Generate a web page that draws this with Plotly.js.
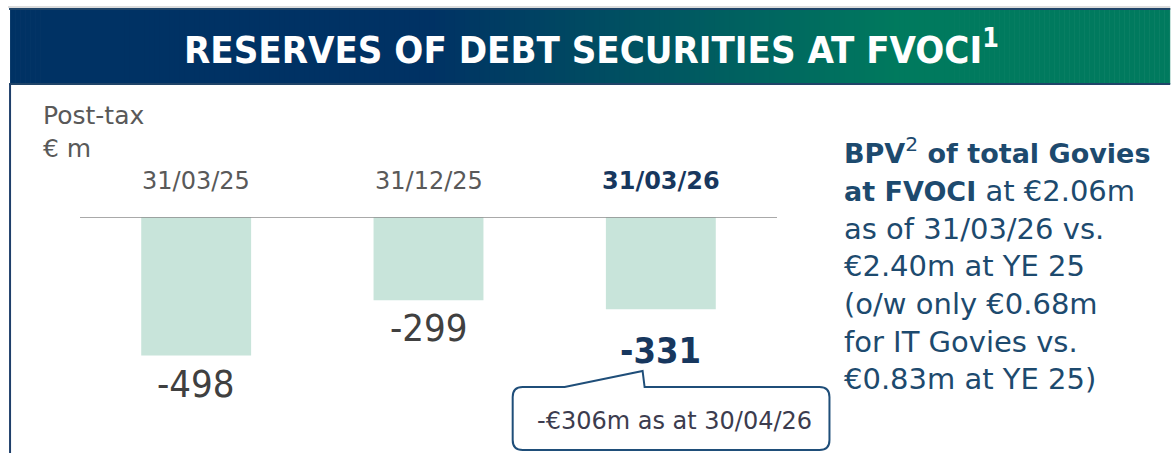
<!DOCTYPE html>
<html>
<head>
<meta charset="utf-8">
<script src="https://cdn.plot.ly/plotly-3.0.1.min.js"></script>
<style>html,body{margin:0;padding:0;background:#fff;}#chart{width:1171px;height:453px;}</style>
</head>
<body>
<div id="chart"></div>
<script>
// ---- data ----
const categories = ["31/03/25", "31/12/25", "31/03/26"];
const values = [-498, -299, -331];
const valueLabels = ["-498", "-299", "-331"];
const highlight = [false, false, true];
const chartTitle = "RESERVES OF DEBT SECURITIES AT FVOCI<sup>1</sup>";
const unitLabel = "Post-tax<br>€ m";
const calloutText = "-€306m as at 30/04/26";
const sideNoteLines = [
  "<b>BPV</b><sup>2</sup><b> of total Govies</b>",
  "<b>at FVOCI</b> at €2.06m",
  "as of 31/03/26 vs.",
  "€2.40m at YE 25",
  "(o/w only €0.68m",
  "for IT Govies vs.",
  "€0.83m at YE 25)"
];

// ---- layout geometry ----
const W = 1171, H = 453;
const ml = 80, mr = 393.5, mt = 217, mb = 69;
const plotW = W - ml - mr, plotH = H - mt - mb;
const px = x => (x - ml) / plotW;
const py = y => (H - mb - y) / plotH;

const NAVY = "#17375e";
const GRAY = "#595959";
const REG = "DejaVu Sans, Liberation Sans, sans-serif";
const NARROW = "Liberation Sans Narrow, DejaVu Sans Condensed, Roboto, sans-serif";

// header gradient stripes
const shapes = [];
const c0 = [0, 50, 100], c1 = [0, 122, 94];
const gx0 = 430, gx1 = 900;
for (let x = 10; x < W; x += 5) {
  const xm = x + 2.5;
  let t = Math.min(1, Math.max(0, (xm - gx0) / (gx1 - gx0)));
  const c = c0.map((v, i) => Math.round(v + (c1[i] - v) * t));
  shapes.push({type: "rect", xref: "paper", yref: "paper",
    x0: px(x), x1: px(Math.min(W, x + 5.6)), y0: py(84), y1: py(8),
    fillcolor: `rgb(${c[0]},${c[1]},${c[2]})`, line: {width: 0}, layer: "below"});
}
// header borders
shapes.push({type: "line", xref: "paper", yref: "paper", x0: px(8), x1: px(W), y0: py(7), y1: py(7), line: {color: "#b8b8b8", width: 1}});
shapes.push({type: "line", xref: "paper", yref: "paper", x0: px(9), x1: px(W), y0: py(9), y1: py(9), line: {color: "#1f4468", width: 2}});
shapes.push({type: "line", xref: "paper", yref: "paper", x0: px(9), x1: px(W), y0: py(84), y1: py(84), line: {color: "#1f4468", width: 2}});
// left vertical rule
shapes.push({type: "line", xref: "paper", yref: "paper", x0: px(10), x1: px(10), y0: py(84), y1: py(H), line: {color: "#1f3f6a", width: 2}});
// baseline
shapes.push({type: "line", xref: "paper", yref: "y", x0: 0, x1: 1, y0: 0, y1: 0, line: {color: "#8c8c8c", width: 1.5}});
// callout box
const bx0 = 513, bx1 = 830, by0 = 387, by1 = 450, r = 10;
const P = (x, y) => `${px(x)},${py(y)}`;
const path = `M ${P(bx0 + r, by0)} L ${P(565, by0)} L ${P(643, 371)} L ${P(645, by0)} L ${P(bx1 - r, by0)} Q ${P(bx1, by0)} ${P(bx1, by0 + r)} L ${P(bx1, by1 - r)} Q ${P(bx1, by1)} ${P(bx1 - r, by1)} L ${P(bx0 + r, by1)} Q ${P(bx0, by1)} ${P(bx0, by1 - r)} L ${P(bx0, by0 + r)} Q ${P(bx0, by0)} ${P(bx0 + r, by0)} Z`;
shapes.push({type: "path", xref: "paper", yref: "paper", path: path, fillcolor: "#ffffff", line: {color: "#1f4e79", width: 2}});

const annotations = [];
// title
annotations.push({xref: "paper", yref: "paper", x: px(592), y: py(47), xanchor: "center", yanchor: "middle",
  text: "<b>" + chartTitle + "</b>", showarrow: false, font: {family: NARROW, size: 38, color: "#ffffff"}});
// unit label
annotations.push({xref: "paper", yref: "paper", x: px(41), y: py(132), xanchor: "left", yanchor: "middle", align: "left",
  text: unitLabel, showarrow: false, font: {family: REG, size: 25, color: GRAY}});
// category labels
categories.forEach((c, i) => {
  annotations.push({xref: "x", yref: "y", x: c, y: 0, yanchor: "middle", xanchor: "center", yshift: 36,
    text: highlight[i] ? "<b>" + c + "</b>" : c, showarrow: false,
    font: {family: REG, size: 24, color: highlight[i] ? NAVY : GRAY}});
});
// value labels
categories.forEach((c, i) => {
  annotations.push({xref: "x", yref: "y", x: c, y: values[i], yanchor: "middle", xanchor: "center",
    yshift: highlight[i] ? -41 : -28,
    text: highlight[i] ? "<b>" + valueLabels[i] + "</b>" : valueLabels[i], showarrow: false,
    font: {family: NARROW, size: highlight[i] ? 36 : 38, color: highlight[i] ? NAVY : "#404040"}});
});
// callout text
annotations.push({xref: "paper", yref: "paper", x: px(675), y: py(421), xanchor: "center", yanchor: "middle",
  text: calloutText, showarrow: false, font: {family: REG, size: 24, color: "#3c3c4e"}});
// side note (bold parts slightly smaller so the first line fits)
const sideText = sideNoteLines
  .map(l => l.replace(/<b>/g, '<span style="font-size:27px"><b>').replace(/<\/b>/g, '</b></span>'))
  .join("<br>");
annotations.push({xref: "paper", yref: "paper", x: px(843), y: py(263.5), xanchor: "left", yanchor: "middle", align: "left",
  text: sideText, showarrow: false, font: {family: REG, size: 29, color: "#1d4a6e"}});

const trace = {
  type: "bar", x: categories, y: values, width: 0.473,
  marker: {color: "#c8e4da", line: {width: 0}},
  hoverinfo: "skip", showlegend: false
};

const layout = {
  width: W, height: H,
  margin: {l: ml, r: mr, t: mt, b: mb, pad: 0},
  paper_bgcolor: "#ffffff", plot_bgcolor: "#ffffff",
  xaxis: {type: "category", range: [-0.5, 2.5], showticklabels: false, showgrid: false, zeroline: false, showline: false, ticks: "", fixedrange: true},
  yaxis: {range: [-600, 0], showticklabels: false, showgrid: false, zeroline: false, showline: false, ticks: "", fixedrange: true},
  shapes: shapes, annotations: annotations, showlegend: false
};

Plotly.newPlot("chart", [trace], layout, {displayModeBar: false, staticPlot: true});
</script>
</body>
</html>
